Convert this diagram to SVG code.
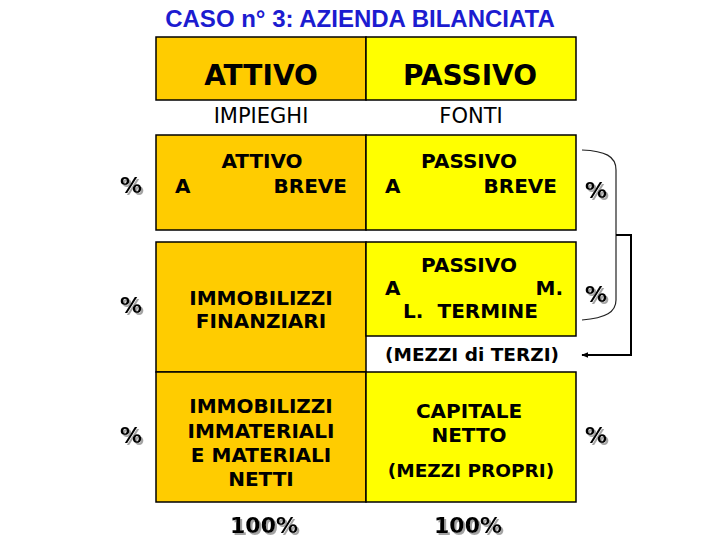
<svg xmlns="http://www.w3.org/2000/svg" width="720" height="540" viewBox="0 0 720 540">
<style>
.bx{stroke:#000;stroke-width:1.5}
.or{fill:#FFCC00}
.ye{fill:#FFFF00}
text{font-family:"DejaVu Sans","Liberation Sans",sans-serif;fill:#000}
.b{font-weight:bold;font-size:20px}
.c{text-anchor:middle}
.e{text-anchor:end}
.h{font-weight:bold;font-size:28px;text-anchor:middle}
.n{font-size:21px;text-anchor:middle}
.p{font-weight:bold;font-size:22px;text-anchor:middle;filter:url(#sh)}
</style>
<defs>
<marker id="ar" viewBox="0 0 10 10" refX="9" refY="5" markerWidth="7" markerHeight="7" orient="auto-start-reverse" markerUnits="userSpaceOnUse">
<path d="M0,1 L10,5 L0,9 z" fill="#000"/>
</marker>
<filter id="sh" x="-20%" y="-20%" width="150%" height="150%">
<feDropShadow dx="2" dy="2" stdDeviation="0.6" flood-color="#999" flood-opacity="0.9"/>
</filter>
</defs>
<rect width="720" height="540" fill="#fff"/>
<text x="360" y="27" text-anchor="middle" style="font-family:'Liberation Sans',Arial,sans-serif;font-weight:bold;font-size:24px;fill:#1c1cd0">CASO n° 3: AZIENDA BILANCIATA</text>

<g id="header-attivo">
<rect class="bx or" x="156" y="37" width="210" height="63"/>
<text class="h" x="261" y="85">ATTIVO</text>
</g>
<g id="header-passivo">
<rect class="bx ye" x="366" y="37" width="210" height="63"/>
<text class="h" x="470" y="85">PASSIVO</text>
</g>
<g id="label-impieghi"><text class="n" x="261" y="123">IMPIEGHI</text></g>
<g id="label-fonti"><text class="n" x="471" y="123">FONTI</text></g>

<g id="attivo-breve">
<rect class="bx or" x="156" y="135" width="210" height="95"/>
<text class="b c" x="262" y="168">ATTIVO</text>
<text class="b" x="175" y="193">A</text>
<text class="b e" x="347" y="193">BREVE</text>
</g>
<g id="passivo-breve">
<rect class="bx ye" x="366" y="135" width="210" height="95"/>
<text class="b c" x="469" y="168">PASSIVO</text>
<text class="b" x="385" y="193">A</text>
<text class="b e" x="557" y="193">BREVE</text>
</g>

<g id="immobilizzi-finanziari">
<rect class="bx or" x="156" y="242" width="210" height="130"/>
<text class="b c" x="261" y="305">IMMOBILIZZI</text>
<text class="b c" x="261" y="328">FINANZIARI</text>
</g>
<g id="passivo-ml">
<rect class="bx ye" x="366" y="242" width="210" height="94"/>
<text class="b c" x="469" y="272">PASSIVO</text>
<text class="b" x="385" y="295">A</text>
<text class="b e" x="563" y="295">M.</text>
<text class="b" x="403" y="318">L.</text>
<text class="b e" x="538" y="318">TERMINE</text>
</g>
<g id="mezzi-terzi"><text class="b c" x="472" y="361" style="font-size:18.5px">(MEZZI di TERZI)</text></g>

<g id="immobilizzi-materiali">
<rect class="bx or" x="156" y="372" width="210" height="130"/>
<text class="b c" x="261" y="413">IMMOBILIZZI</text>
<text class="b c" x="261" y="438">IMMATERIALI</text>
<text class="b c" x="261" y="462">E MATERIALI</text>
<text class="b c" x="261" y="486">NETTI</text>
</g>
<g id="capitale-netto">
<rect class="bx ye" x="366" y="372" width="210" height="130"/>
<text class="b c" x="469" y="418">CAPITALE</text>
<text class="b c" x="469" y="442">NETTO</text>
<text class="b c" x="471" y="477" style="font-size:18.5px">(MEZZI PROPRI)</text>
</g>

<g id="percentages">
<text class="p" x="131" y="193">%</text>
<text class="p" x="131" y="313">%</text>
<text class="p" x="131" y="443">%</text>
<text class="p" x="596" y="198">%</text>
<text class="p" x="596" y="302">%</text>
<text class="p" x="596" y="443">%</text>
<text class="p" x="264" y="533">100%</text>
<text class="p" x="468" y="533">100%</text>
</g>

<g id="connectors" fill="none">
<path d="M582,150 C605,151 616,156 616,170 L616,300 C616,312 606,318 582,320" stroke="#222" stroke-width="1.2"/>
<path d="M616,235 L631,235 L631,355 L582,355" stroke="#000" stroke-width="2" marker-end="url(#ar)"/>
</g>
</svg>
